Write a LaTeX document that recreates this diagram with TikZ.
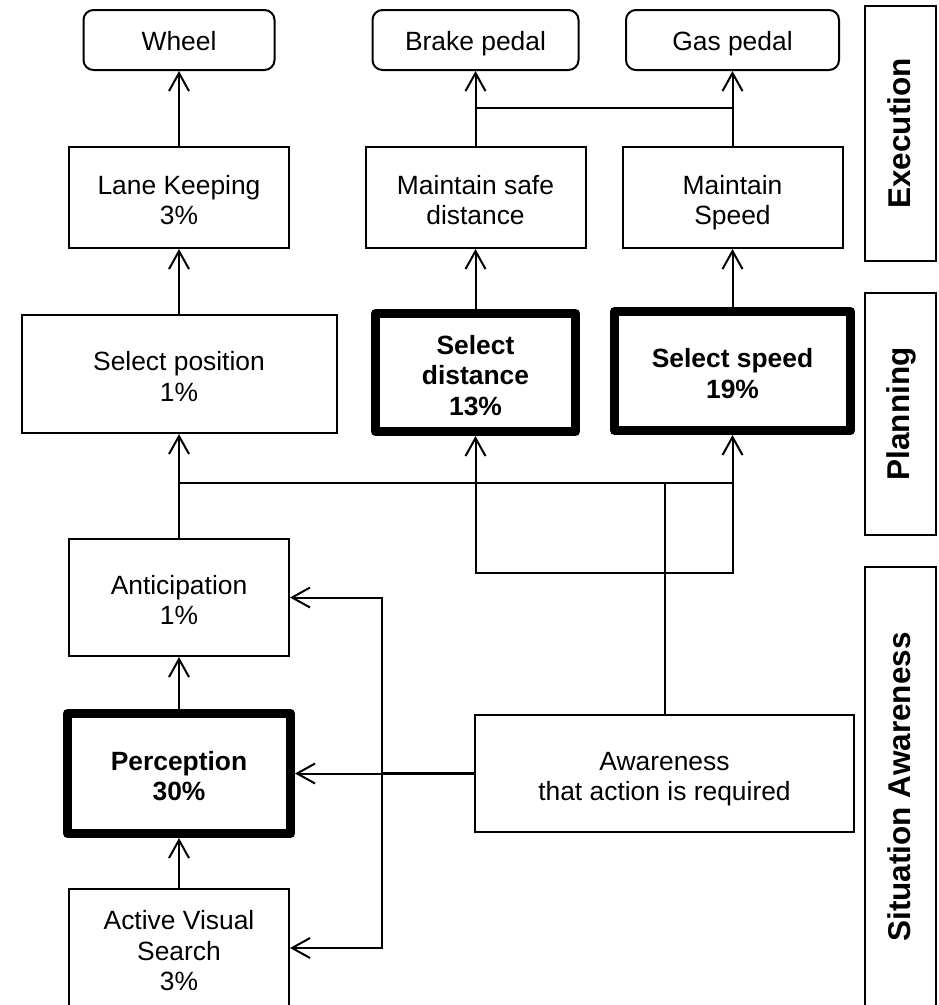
\documentclass[tikz,border=0pt]{standalone}
\usepackage{fontspec}
\setmainfont{Liberation Sans}
\usepackage{tikz}
\usetikzlibrary{arrows.meta}

% centred block of several lines inside a task box
\newcommand{\tasklines}[2][200pt]{%
  \parbox[c]{#1}{\centering\rule{0pt}{29.6pt}#2\rule[-5.6pt]{0pt}{5.6pt}}}

\begin{document}
\begin{tikzpicture}[
      x=1pt, y=-1pt,
      font=\fontsize{26.4}{30.5}\selectfont,
      box/.style={
        rectangle, draw, line width=2pt,
        align=center, inner sep=0pt,
        minimum width=220pt,
        minimum height=101pt,
        execute at begin node={\rule{0pt}{25.6pt}},
        execute at end node={\rule[-5.6pt]{0pt}{5.6pt}}
      },
      device/.style={box, rounded corners=10pt, minimum height=60pt},
      keytask/.style={box, line width=9pt, line join=round,
        font=\fontsize{26.4}{30.5}\selectfont\bfseries},
      level/.style={box, rotate=90, minimum height=71pt,
        font=\fontsize{31.5}{36}\selectfont\bfseries},
      link/.style={line width=2pt},
      arr/.style={link, -{Straight Barb[length=18pt,width=20pt]}}
    ]

    \clip (0,0) rectangle (939,1005);

    % Top row: controls of the car
    \node[device, minimum width=191pt] (wheel) at (179,40) {Wheel};
    \node[device, minimum width=206pt] (brake) at (475.5,40) {Brake pedal};
    \node[device, minimum width=213pt] (gas) at (732.5,40) {Gas pedal};

    % Execution tasks
    \node[box] (lane) at (179,197.5) {\tasklines{Lane Keeping\\3\%}};
    \node[box] (safe) at (475.5,197.5) {\tasklines{Maintain safe\\distance}};
    \node[box] (mspeed) at (732.5,197.5) {\tasklines{Maintain\\Speed}};

    % Planning tasks
    \node[box, minimum width=315pt, minimum height=118pt] (selpos) at (179,374) {\tasklines{Select position\\1\%}};
    \node[keytask, minimum width=200pt, minimum height=118pt] (seldist) at (475.5,372.5) {\tasklines[180pt]{Select\\distance\\13\%}};
    \node[keytask, minimum width=236pt, minimum height=119pt] (selspeed) at (732.5,371) {\tasklines{Select speed\\19\%}};

    % Situation awareness tasks
    \node[box, minimum height=117pt] (antic) at (179,597.5) {\tasklines{Anticipation\\1\%}};
    \node[keytask, minimum width=223pt, minimum height=120pt] (percep) at (179,773.5) {\tasklines{Perception\\30\%}};
    \node[box, minimum height=118pt] (avs) at (179,948) {\tasklines{Active Visual\\Search\\3\%}};
    \node[box, minimum width=379pt, minimum height=117pt] (aware) at (664.5,773.5) {\tasklines[300pt]{Awareness\\that action is required}};

    % Level labels on the right
    \node[level, minimum width=255pt] (exec) at (900.5,133.5) {Execution};
    \node[level, minimum width=242pt] (plan) at (900.5,414) {Planning};
    \node[level, minimum width=440pt] (sitaw) at (900.5,787) {Situation Awareness};

    % heights and x of the shared lines
    \coordinate (pedalbus) at (0,108);
    \coordinate (planbus) at (0,483);
    \coordinate (loopbus) at (0,573);
    \coordinate (sabus) at (382,0);

    % execution -> controls
    \draw[arr] (lane.north) -- (wheel.south);
    \draw[arr] (safe.north) -- (brake.south);
    \draw[arr] (mspeed.north) -- (gas.south);
    \draw[link] (brake.south |- pedalbus) -- (gas.south |- pedalbus);

    % planning -> execution
    \draw[arr] (selpos.north) -- (lane.south);
    \draw[arr] (seldist.north) -- (safe.south);
    \draw[arr] (selspeed.north) -- (mspeed.south);

    % situation awareness -> planning
    \draw[arr] (antic.north) -- (selpos.south);
    \draw[link] (aware.north) -- (aware.north |- planbus) -- (antic.north |- planbus);
    \draw[arr] (aware.north |- planbus) -| (selspeed.south);
    \draw[arr] (selspeed.south |- planbus) |- (seldist.south |- loopbus) -- (seldist.south);

    % awareness feeds back into the left column
    \draw[link, line width=3pt] (aware.west) -- (sabus |- aware.west);
    \draw[arr] (sabus |- aware.west) -- (percep.east);
    \draw[arr] (sabus |- aware.west) |- (antic.east);
    \draw[arr] (sabus |- aware.west) |- (avs.east);
    \draw[arr] (avs.north) -- (percep.south);
    \draw[arr] (percep.north) -- (antic.south);
\end{tikzpicture}
\end{document}
